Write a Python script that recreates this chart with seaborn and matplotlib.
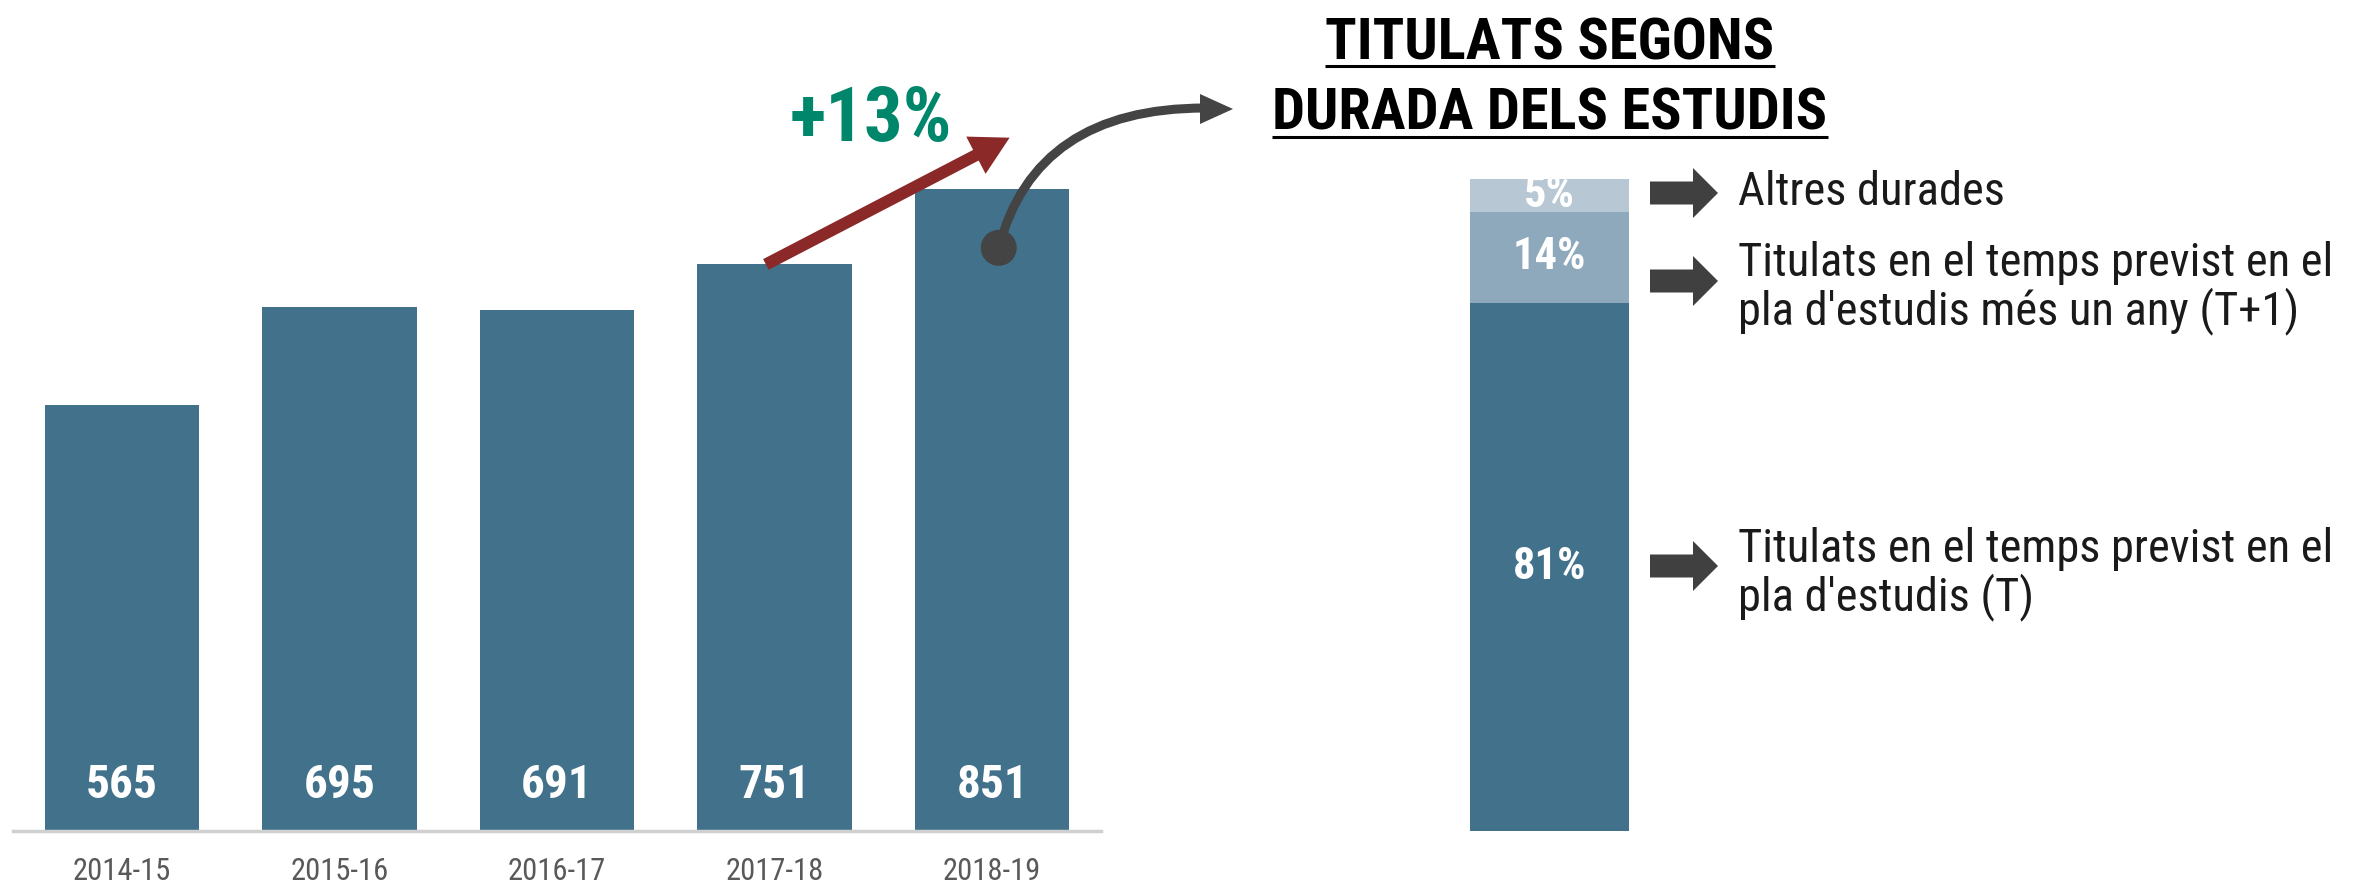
import numpy as np
import pandas as pd
import matplotlib
matplotlib.use('Agg')
import matplotlib.pyplot as plt
import seaborn as sns
from matplotlib import font_manager as fm
from matplotlib.patches import FancyArrow, PathPatch, Circle, Polygon
from matplotlib.path import Path

# data
years = ['2014-15', '2015-16', '2016-17', '2017-18', '2018-19']
graduates = [565, 695, 691, 751, 851]
growth_label = '+13%'

share_values = [81, 14, 5]
share_labels = ["Titulats en el temps previst en el\npla d'estudis (T)",
                "Titulats en el temps previst en el\npla d'estudis més un any (T+1)",
                'Altres durades']
title_lines = ['TITULATS SEGONS', 'DURADA DELS ESTUDIS']

# colours
BLUE = '#42728B'
MID = '#8DA9BB'
LIGHT = '#B7C7D3'
RED = '#8B2828'
GREEN = '#00866B'
DARK = '#444444'

# pick a condensed family if one is installed
installed = {f.name for f in fm.fontManager.ttflist}
prefs = ['Roboto Condensed', 'Fira Sans Condensed', 'Open Sans Condensed',
         'Barlow Condensed', 'PT Sans Narrow', 'Archivo Narrow']
FONT = next((f for f in prefs if f in installed), 'DejaVu Sans')

sns.set_style('white')
plt.rcParams['font.family'] = [FONT, 'DejaVu Sans']

W, H = 2356, 891
fig = plt.figure(figsize=(W / 100, H / 100), dpi=100)

# left bar chart
px_per_unit = 642 / 851
ax = fig.add_axes([13 / W, 60 / H, 1088 / W, 900 * px_per_unit / H])
df = pd.DataFrame({'curs': years, 'titulats': graduates})
sns.barplot(data=df, x='curs', y='titulats', color=BLUE, saturation=1,
            width=0.71, linewidth=0, ax=ax)
ax.set_xlim(-0.5, 4.5)
ax.set_ylim(0, 900)
ax.set_xlabel('')
ax.set_ylabel('')
ax.set_yticks([])
for s in ['left', 'top', 'right']:
    ax.spines[s].set_visible(False)
ax.spines['bottom'].set_color('#d0d0d0')
ax.spines['bottom'].set_linewidth(2.5)
ax.set_xticks(range(len(years)))
ax.set_xticklabels(years, fontsize=22, color='#595959')
ax.set_xticks(np.arange(-0.5, len(years), 1), minor=True)
ax.tick_params(axis='x', which='major', length=0, pad=19)
ax.tick_params(axis='x', which='minor', length=6, width=1.5, color='#d9d9d9')
for i, v in enumerate(graduates):
    ax.text(i, 61, str(v), ha='center', va='center', color='white',
            fontsize=34, fontweight='bold')

# right stacked bar (cumulative bars drawn back to front)
ax2 = fig.add_axes([1470 / W, 60 / H, 159 / W, 652 / H])
cum = np.cumsum(share_values)
for val, col in zip(cum[::-1], [LIGHT, MID, BLUE]):
    sns.barplot(x=['total'], y=[val], color=col, saturation=1, width=1,
                linewidth=0, ax=ax2)
ax2.set_xlim(-0.5, 0.5)
ax2.set_ylim(0, 100)
ax2.axis('off')
starts = np.concatenate([[0], cum[:-1]])
for st, v in zip(starts, share_values):
    ax2.text(0, st + v / 2, f'{v}%', ha='center', va='center', color='white',
             fontsize=32, fontweight='bold', clip_on=True)

# overlay in pixel coordinates for annotations
ov = fig.add_axes([0, 0, 1, 1])
ov.set_xlim(0, W)
ov.set_ylim(H, 0)
ov.axis('off')


def to_px(axis, x, y):
    dx, dy = axis.transData.transform((x, y))
    return dx, H - dy


# growth arrow
x0, y0 = to_px(ax, 2.96, graduates[3])
x1, y1 = to_px(ax, 4.08, 919)
ov.add_patch(FancyArrow(x0, y0, x1 - x0, y1 - y0, width=12, head_width=42,
                        head_length=38, length_includes_head=True,
                        color=RED, lw=0))
ov.text(871, 120, growth_label, ha='center', va='center', color=GREEN,
        fontsize=55, fontweight='bold')

# curved pointer from last bar to the title
dx0, dy0 = to_px(ax, 4.03, 773)
curve = Path([(dx0, dy0), (1035, 108), (1205, 108)],
             [Path.MOVETO, Path.CURVE3, Path.CURVE3])
ov.add_patch(PathPatch(curve, fill=False, edgecolor=DARK, lw=6.5,
                       capstyle='butt'))
ov.add_patch(Polygon([(1200, 94), (1233, 109), (1200, 124)], closed=True,
                     color=DARK, lw=0))
ov.add_patch(Circle((dx0, dy0), 18, color=DARK, lw=0))

# title with underline
title_texts = []
for line, yb in zip(title_lines, [59, 130]):
    t = ov.text(1550, yb, line, ha='center', va='baseline', color='black',
                fontsize=42, fontweight='bold')
    title_texts.append((t, yb))

# labels with block arrows
label_y = [574, 288, 192]
arrow_y = [566, 281, 193]
for lab, ly, ay in zip(share_labels, label_y, arrow_y):
    ov.add_patch(FancyArrow(1650, ay, 68, 0, width=23, head_width=50,
                            head_length=25, length_includes_head=True,
                            color='#404040', lw=0))
    ov.text(1738, ly, lab, ha='left', va='center', color='#1a1a1a',
            fontsize=33.5, linespacing=1.08)

fig.canvas.draw()
for t, yb in title_texts:
    bb = t.get_window_extent()
    ov.plot([bb.x0, bb.x1], [yb + 7, yb + 7], color='black', lw=2.2,
            solid_capstyle='butt')

fig.savefig('out.png', dpi=100)
